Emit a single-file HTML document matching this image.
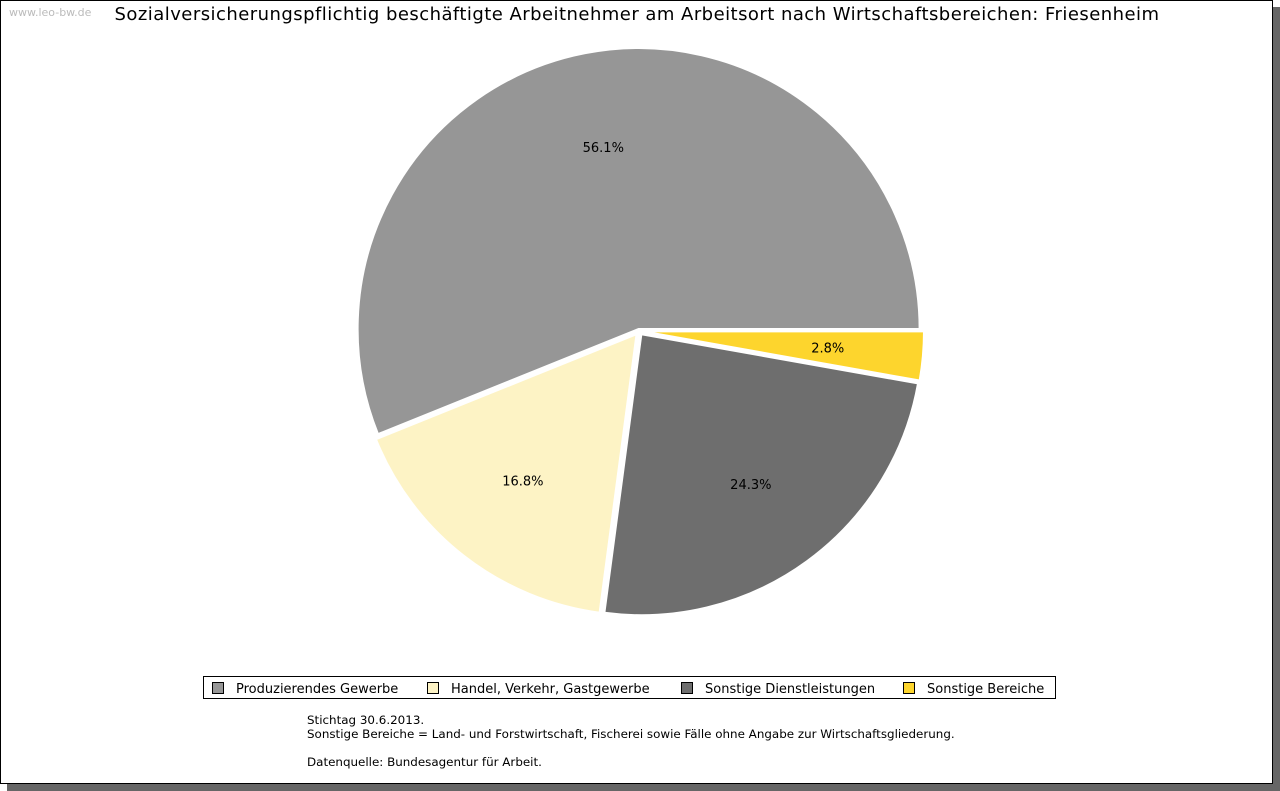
<!DOCTYPE html>
<html><head><meta charset="utf-8">
<style>
html,body{margin:0;padding:0;background:#fff;}
body{width:1280px;height:791px;position:relative;overflow:hidden;font-family:"DejaVu Sans","Liberation Sans",sans-serif;}
#shadow{position:absolute;left:7px;top:7px;width:1273px;height:784px;background:#666;}
#frame{position:absolute;left:0;top:0;width:1271px;height:782px;border:1px solid #000;background:#fff;}
#wm{position:absolute;left:9px;top:6px;font-size:11px;color:#bbb;}
#title{position:absolute;left:0;width:1274px;top:4px;text-align:center;font-size:18px;letter-spacing:0.46px;color:#000;}
#legend{position:absolute;left:203px;top:676px;width:851px;height:21px;border:1px solid #000;background:#fff;font-size:13px;}
.li{position:absolute;top:5px;white-space:nowrap;}
.sw{display:inline-block;width:10px;height:10px;border:1px solid #000;margin-right:12px;vertical-align:-1px;}
#notes{position:absolute;left:307px;top:713px;font-size:11.9px;line-height:14px;}
</style></head><body>
<div id="shadow"></div>
<div id="frame"></div>
<div id="wm">www.leo-bw.de</div>
<div id="title">Sozialversicherungspflichtig beschäftigte Arbeitnehmer am Arbeitsort nach Wirtschaftsbereichen: Friesenheim</div>
<svg id="pie" width="1280" height="791" style="position:absolute;left:0;top:0"></svg>
<div id="legend">
<span class="li" style="left:8px"><span class="sw" style="background:#969696"></span>Produzierendes Gewerbe</span>
<span class="li" style="left:223px"><span class="sw" style="background:#fdf3c5"></span>Handel, Verkehr, Gastgewerbe</span>
<span class="li" style="left:477px"><span class="sw" style="background:#6e6e6e"></span>Sonstige Dienstleistungen</span>
<span class="li" style="left:699px"><span class="sw" style="background:#fdd52d"></span>Sonstige Bereiche</span>
</div>
<div id="notes">Stichtag 30.6.2013.<br>Sonstige Bereiche = Land- und Forstwirtschaft, Fischerei sowie Fälle ohne Angabe zur Wirtschaftsgliederung.<br><br>Datenquelle: Bundesagentur für Arbeit.</div>
<script>
const categories=["Produzierendes Gewerbe","Handel, Verkehr, Gastgewerbe","Sonstige Dienstleistungen","Sonstige Bereiche"];
const values=[56.1,16.8,24.3,2.8];
const labels=["56.1%","16.8%","24.3%","2.8%"];
const colors=["#969696","#fdf3c5","#6e6e6e","#fdd52d"];
const svg=document.getElementById('pie');
const NS="http://www.w3.org/2000/svg";
const cx=639,cy=331,r=281;
const total=values.reduce((a,b)=>a+b,0);
let a0=0;
values.forEach((v,i)=>{
  const sweep=v/total*2*Math.PI;
  const a1=a0+sweep, mid=a0+sweep/2;
  const off=i===0?2:4;
  const ox=cx+off*Math.cos(mid), oy=cy-off*Math.sin(mid);
  const x0=ox+r*Math.cos(a0), y0=oy-r*Math.sin(a0);
  const x1=ox+r*Math.cos(a1), y1=oy-r*Math.sin(a1);
  const p=document.createElementNS(NS,'path');
  p.setAttribute('d',`M${ox},${oy} L${x0},${y0} A${r},${r} 0 ${sweep>Math.PI?1:0} 0 ${x1},${y1} Z`);
  p.setAttribute('fill',colors[i]);
  p.setAttribute('stroke','#fff');
  p.setAttribute('stroke-width','2');
  
  
  svg.appendChild(p);
  const t=document.createElementNS(NS,'text');
  const lr=0.66*r;
  t.setAttribute('x',ox+lr*Math.cos(mid));
  t.setAttribute('y',oy-lr*Math.sin(mid)+5);
  t.setAttribute('text-anchor','middle');
  t.setAttribute('font-size','13');
  t.setAttribute('font-family','DejaVu Sans, Liberation Sans, sans-serif');
  t.textContent=labels[i];
  
  
  svg.appendChild(t);
  a0=a1;
});
</script>
</body></html>
